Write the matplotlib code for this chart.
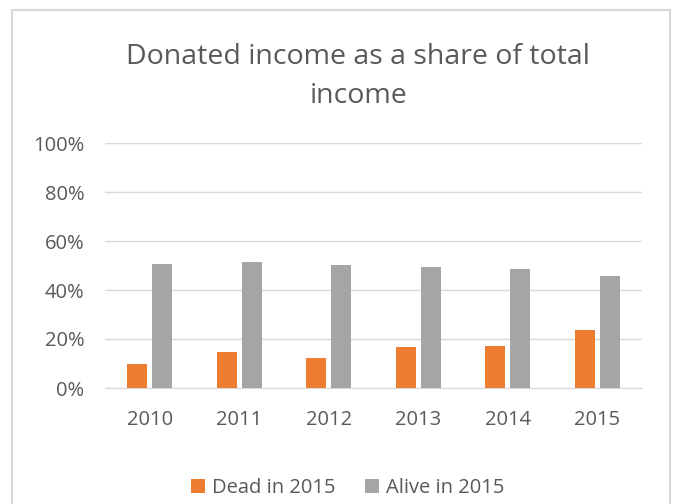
import matplotlib.pyplot as plt
import numpy as np
from matplotlib.ticker import PercentFormatter
from matplotlib.patches import Rectangle

years = ["2010", "2011", "2012", "2013", "2014", "2015"]
dead = [10.0, 14.6, 12.2, 16.6, 17.0, 23.5]
alive = [50.8, 51.3, 50.2, 49.4, 48.4, 45.9]

txt = "#595959"
plt.rcParams['font.family'] = ['Open Sans', 'DejaVu Sans']

fig = plt.figure(figsize=(6.75, 5.04), dpi=100)
# chart frame, bottom edge lies below the image
fig.patches.append(Rectangle((11.5 / 675, -10 / 504), 658.5 / 675, 504 / 504, transform=fig.transFigure,
                             fill=False, edgecolor="#d9d9d9", linewidth=1.5))
ax = fig.add_axes([105 / 675, 1 - 388 / 504, 537 / 675, 245 / 504])

x = np.arange(len(years))
w = 0.223
ax.bar(x - 0.14, dead, w, color="#ed7d31", label="Dead in 2015", zorder=3)
ax.bar(x + 0.14, alive, w, color="#a5a5a5", label="Alive in 2015", zorder=3)

ax.set_xlim(-0.5, len(years) - 0.5)
ax.set_ylim(0, 100)
ax.set_yticks(range(0, 101, 20))
ax.yaxis.set_major_formatter(PercentFormatter(decimals=0))
ax.set_xticks(x)
ax.set_xticklabels(years)
ax.grid(axis="y", color="#d9d9d9", linewidth=1, zorder=0)
for s in ["top", "right", "left"]:
    ax.spines[s].set_visible(False)
ax.spines["bottom"].set_color("#d9d9d9")
ax.tick_params(length=0, labelsize=14.5, colors=txt)
ax.tick_params(axis="x", pad=16)
ax.tick_params(axis="y", pad=15)

fig.text(0.531, 1 - 64 / 504, "Donated income as a share of total", ha="center", va="baseline",
         fontsize=20.5, color=txt)
fig.text(0.531, 1 - 103 / 504, "income", ha="center", va="baseline", fontsize=20.5, color=txt)

fig.legend(loc="center", bbox_to_anchor=(0.515, 0.031), ncol=2, frameon=False, fontsize=14.5,
           labelcolor=txt, handlelength=0.7, handleheight=0.7, columnspacing=1.45, handletextpad=0.35)

fig.savefig("out.png", dpi=100)
